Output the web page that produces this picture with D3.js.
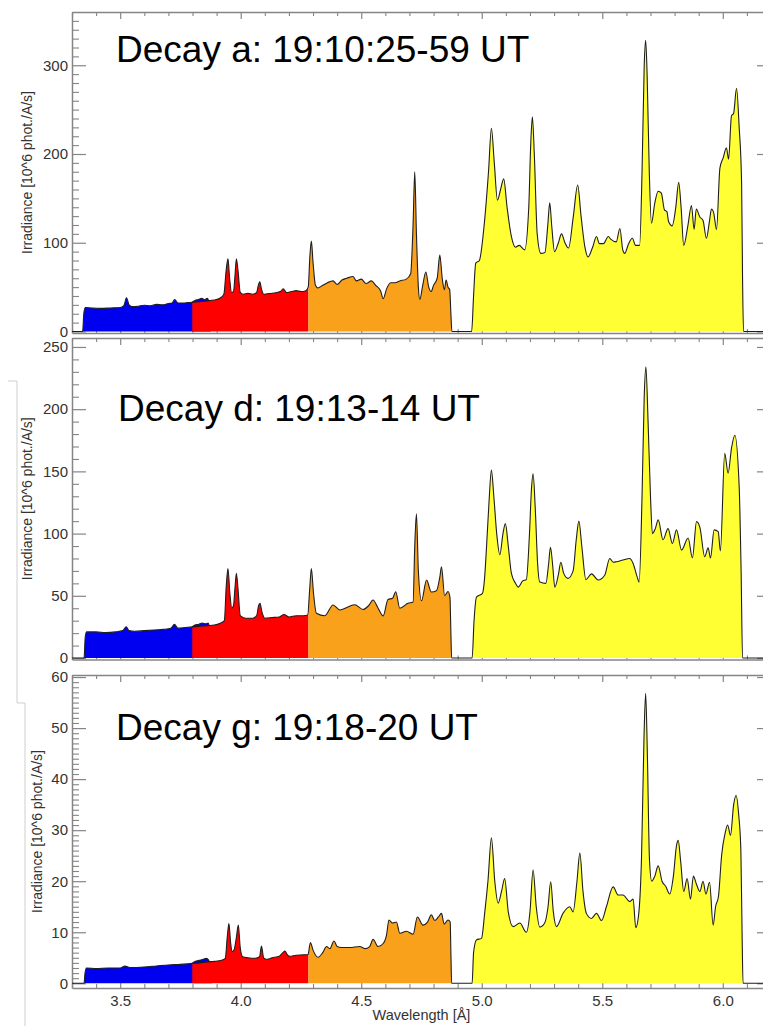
<!DOCTYPE html>
<html>
<head>
<meta charset="utf-8">
<script src="https://cdn.jsdelivr.net/npm/d3@7"></script>
<style>
body{margin:0;background:#fff;}
svg{display:block;}
</style>
</head>
<body>
<div id="chart"></div>
<script>
//x axis (wavelength, Angstrom)
const xDomain = [3.3, 6.2];
const xMajorTicks = [3.5, 4.0, 4.5, 5.0, 5.5, 6.0];

//spectral channels
const bandEdges = [3.30, 3.799, 4.281, 4.92, 6.20];
const bandColors = ["#0000f0", "#ff0000", "#f9a11b", "#ffff33"];

const titles = ["Decay a: 19:10:25-59 UT", "Decay d: 19:13-14 UT", "Decay g: 19:18-20 UT"];
const yLabel = "Irradiance [10^6 phot./A/s]";
const xLabel = "Wavelength [Å]";

//y ranges and tick steps per panel
const yDomains = [[-1.7, 360], [-1.2, 257.2], [-0.92, 60.4]];
const yMajorSteps = [100, 50, 10];
const yMinorSteps = [10, 10, 1];

//spectra: [wavelength, irradiance]
const spectrumA = [
	[3.300,0],[3.344,0],[3.349,20],[3.355,27],[3.380,26.5],[3.420,26],[3.460,26.5],[3.500,27],[3.515,29],[3.526,38],
	[3.537,30],[3.550,28],[3.575,28.5],[3.600,29.5],[3.625,29],[3.650,30.5],[3.675,30],[3.700,31.5],[3.715,32],[3.726,36],
	[3.740,32],[3.760,32],[3.780,32.5],[3.800,33],
	[3.830,33.5],[3.860,34.5],[3.890,35.5],[3.913,37.5],[3.930,42],[3.940,70],[3.947,82],[3.954,60],[3.962,44],[3.970,45],
	[3.976,62],[3.982,82],[3.989,68],[3.998,44],[4.010,42],[4.030,43],[4.050,42],[4.066,44],[4.073,52],[4.079,56],
	[4.086,48],[4.095,42],[4.110,42.5],[4.130,43],[4.150,44],[4.165,45],[4.176,48],[4.190,44],[4.210,45],[4.230,46],
	[4.250,45],[4.270,46],
	[4.280,50],[4.287,85],[4.293,102],[4.300,78],[4.310,52],[4.320,49],[4.340,52],[4.360,55],[4.383,57],[4.400,53],
	[4.420,58],[4.440,60],[4.466,62],[4.480,57],[4.500,59],[4.520,54],[4.542,57],[4.560,52],[4.580,46],[4.591,37],
	[4.605,48],[4.622,55],[4.640,55],[4.660,57],[4.687,59],[4.705,65],[4.715,120],[4.722,180],[4.729,110],[4.737,50],
	[4.743,36],[4.755,52],[4.768,67],[4.780,50],[4.790,45],[4.800,52],[4.815,60],[4.826,86],[4.836,60],[4.845,47],
	[4.852,58],[4.860,50],[4.867,47],[4.872,20],[4.876,0],[4.958,0],
	[4.966,40],[4.975,77],[4.990,80],[5.010,120],[5.028,180],[5.040,229],[5.052,190],[5.065,148],[5.078,160],[5.091,172],
	[5.105,140],[5.123,107],[5.140,95],[5.155,97],[5.178,92],[5.195,140],[5.203,210],[5.210,242],[5.218,200],[5.230,110],
	[5.245,88],[5.262,89],[5.274,120],[5.282,145],[5.290,120],[5.302,90],[5.318,100],[5.331,110],[5.345,100],[5.360,94],
	[5.380,130],[5.398,165],[5.412,130],[5.428,95],[5.441,84],[5.460,95],[5.476,107],[5.488,99],[5.505,99],[5.525,107],
	[5.535,104],[5.558,101],[5.573,116],[5.585,92],[5.593,88],[5.608,98],[5.625,105],[5.638,97],[5.655,97],[5.665,180],
	[5.674,300],[5.680,328],[5.686,290],[5.695,180],[5.704,122],[5.718,145],[5.732,158],[5.745,156],[5.758,137],[5.768,135],
	[5.775,124],[5.790,119],[5.805,140],[5.817,168],[5.827,140],[5.838,97],[5.855,119],[5.870,142],[5.881,115],[5.890,138],
	[5.905,129],[5.918,125],[5.932,105],[5.945,125],[5.953,138],[5.962,134],[5.974,115],[5.988,184],[6.002,196],[6.015,207],
	[6.024,194],[6.036,243],[6.045,246],[6.057,274],[6.068,230],[6.078,168],[6.082,60],[6.086,0],[6.200,0]
];
const spectrumD = [
	[3.300,0],[3.350,0],[3.355,17],[3.361,21],[3.400,21],[3.440,20.5],[3.480,21],[3.510,22],[3.525,25],[3.537,22],
	[3.560,21.5],[3.600,22],[3.640,22.5],[3.680,23],[3.710,24],[3.725,27],[3.740,24],[3.770,24.5],[3.800,25],
	[3.830,25.5],[3.860,26],[3.890,26.5],[3.915,28],[3.932,30],[3.940,58],[3.947,72],[3.955,52],[3.963,40],[3.970,42],
	[3.976,56],[3.982,68],[3.989,55],[3.998,34],[4.020,32],[4.050,32],[4.066,34],[4.074,42],[4.080,44],[4.088,37],
	[4.100,32],[4.130,32.5],[4.160,33],[4.180,35],[4.200,33],[4.230,34],[4.260,34],[4.278,34.6],
	[4.286,55],[4.293,72],[4.302,52],[4.314,36],[4.349,34],[4.383,42.6],[4.411,38.6],[4.445,41],[4.473,42.8],[4.508,39],
	[4.530,42],[4.549,46.6],[4.570,40],[4.591,33.8],[4.611,47],[4.630,48],[4.643,53.3],[4.660,40],[4.694,44],[4.715,45],
	[4.722,90],[4.729,116],[4.737,70],[4.750,46],[4.771,62.7],[4.791,53],[4.812,54],[4.826,65],[4.833,73.4],[4.846,50],
	[4.860,53.5],[4.868,49],[4.872,20],[4.875,0],[4.960,0],
	[4.968,30],[4.978,49],[5.003,52],[5.012,65],[5.020,90],[5.030,125],[5.040,151],[5.050,130],[5.062,100],[5.075,83],
	[5.088,100],[5.098,108],[5.110,90],[5.123,68],[5.140,60],[5.151,57],[5.170,62],[5.185,63],[5.198,100],[5.206,135],
	[5.213,148],[5.222,120],[5.232,75],[5.241,61],[5.266,60],[5.277,75],[5.285,89],[5.294,75],[5.303,57],[5.318,67],
	[5.328,77],[5.340,68],[5.358,64],[5.379,70],[5.392,95],[5.403,110],[5.415,90],[5.432,63],[5.455,67.6],[5.483,62.7],
	[5.510,66.5],[5.531,80],[5.545,77],[5.559,77.4],[5.586,78.8],[5.614,80],[5.628,76],[5.645,65],[5.653,61],[5.665,130],
	[5.674,210],[5.681,234],[5.690,190],[5.700,130],[5.708,100],[5.720,104],[5.732,111],[5.752,95],[5.773,104],[5.791,92],
	[5.808,103],[5.829,86.7],[5.856,96.5],[5.874,80.5],[5.891,109.6],[5.905,105],[5.925,81.4],[5.939,88.5],[5.949,80.4],[5.964,103],
	[5.981,101.6],[5.990,86],[6.008,164.5],[6.022,148.5],[6.036,168.5],[6.050,179],[6.068,137.6],[6.076,70],[6.082,0],[6.200,0]
];
const spectrumG = [
	[3.300,0],[3.350,0],[3.354,2.0],[3.360,3.0],[3.400,2.9],[3.450,3.0],[3.500,3.0],[3.520,3.4],[3.540,3.1],[3.600,3.2],
	[3.650,3.4],[3.700,3.6],[3.750,3.7],[3.800,3.9],
	[3.830,4.0],[3.860,4.2],[3.890,4.3],[3.920,4.5],[3.936,4.9],[3.944,9],[3.951,11.7],[3.958,8],[3.964,6.2],[3.972,6.5],
	[3.982,9],[3.990,11.4],[3.998,7],[4.008,5.2],[4.030,5.0],[4.060,4.9],[4.078,5.2],[4.086,7.3],[4.095,5.0],[4.107,4.7],
	[4.130,5.0],[4.160,5.3],[4.175,6.0],[4.183,6.3],[4.195,5.5],[4.203,5.3],[4.230,5.5],[4.260,5.6],[4.279,5.6],
	[4.289,8.0],[4.300,6.5],[4.321,5.1],[4.340,6.0],[4.356,7.2],[4.370,6.8],[4.387,8.3],[4.400,7.2],[4.418,7.0],[4.452,7.0],
	[4.494,7.2],[4.515,6.8],[4.535,7.2],[4.549,8.6],[4.570,7.2],[4.591,7.8],[4.605,9.5],[4.615,12.4],[4.630,11.8],[4.646,12.0],
	[4.660,9.8],[4.688,10.2],[4.715,9.6],[4.733,13.0],[4.756,11.4],[4.775,12],[4.791,13.4],[4.805,12.3],[4.820,13],[4.833,13.7],
	[4.844,11.6],[4.860,12.4],[4.869,12],[4.872,6],[4.875,0],[4.960,0],
	[4.966,6],[4.978,8.5],[4.999,8.8],[5.012,13.7],[5.026,20.2],[5.040,28.5],[5.054,20],[5.068,15.7],[5.082,18],[5.095,20.5],
	[5.110,14],[5.130,11.1],[5.158,11.8],[5.185,10],[5.200,14],[5.213,22.2],[5.226,15],[5.241,11],[5.261,11.8],[5.275,15],
	[5.286,19.9],[5.297,14],[5.310,11.1],[5.337,13.7],[5.365,15],[5.379,14],[5.395,20],[5.407,25.5],[5.420,18],[5.434,13.7],
	[5.455,12.7],[5.476,13.7],[5.497,12.3],[5.517,15],[5.545,18.9],[5.566,17.3],[5.586,17.3],[5.614,16],[5.628,16.5],[5.639,10.9],
	[5.652,14],[5.663,25],[5.673,48],[5.680,56.8],[5.687,45],[5.696,24],[5.705,20],[5.718,21],[5.732,23],[5.748,20],
	[5.763,19],[5.780,17.5],[5.795,21],[5.808,27],[5.815,28],[5.825,24],[5.838,18],[5.852,20.5],[5.866,16.5],[5.878,21],
	[5.890,19.5],[5.905,18],[5.918,20],[5.930,17.5],[5.945,19.8],[5.960,11.4],[5.970,15],[5.982,17],[5.995,25],[6.010,29.5],
	[6.020,31],[6.032,29],[6.045,35],[6.055,36.8],[6.066,33],[6.075,26],[6.080,10],[6.084,0],[6.200,0]
];

//blue channel running past its edge, showing above the red one
const blueTailA = [[3.798,33],[3.810,35],[3.825,36],[3.838,37.5],[3.850,36],[3.862,37.5],[3.870,32],[3.876,28]];
const blueTailD = [[3.798,25],[3.810,26.5],[3.825,27],[3.840,28],[3.855,27.5],[3.865,28],[3.872,24],[3.878,22]];
const blueTailG = [[3.798,3.9],[3.812,4.3],[3.828,4.5],[3.845,4.7],[3.858,4.9],[3.866,4.6],[3.874,3.9],[3.880,3.6]];

const spectra = [spectrumA, spectrumD, spectrumG];
const blueTails = [blueTailA, blueTailD, blueTailG];


//layout
const width = 763, height = 1026;
const plotLeft = 72, plotRight = 771;
const layout = [
	{top:12, bottom:333, labelX:27, titleX:116, titleY:62},
	{top:338, bottom:659.5, labelX:27, titleX:118, titleY:421},
	{top:675, bottom:988, labelX:37, titleX:116, titleY:740}
];
const font = "'Liberation Sans', Arial, Helvetica, sans-serif";
const axisColor = "#858585";
const textColor = "#333";
const lineColor = "#1e1e1e";

let svg = d3.select("#chart")
	.append("svg")
	.attr("width", width)
	.attr("height", height)
	.attr("font-family", font);

let defs = svg.append("defs");

//frame lines left over from the slide
svg.append("path")
	.attr("d", "M8,381H17V703H25V1026")
	.attr("fill", "none")
	.attr("stroke", "#cfcfcf")
	.attr("stroke-width", 1);

const xScale = d3.scaleLinear()
	.domain(xDomain)
	.range([plotLeft, plotRight]);

const xMinorTicks = d3.range(33, 63).map((d)=>d/10).filter((d)=>!xMajorTicks.some((m)=>Math.abs(m-d)<1e-6));

function styleAxis(g){
	g.select(".domain").attr("stroke", axisColor).attr("stroke-width", 1.5);
	g.selectAll(".tick line").attr("stroke", axisColor).attr("stroke-width", 1.2);
	g.selectAll(".tick text").attr("fill", textColor);
	g.attr("font-family", font).attr("font-size", 15);
}

function minorAxis(g){
	g.select(".domain").remove();
	g.selectAll(".tick line").attr("stroke", axisColor).attr("stroke-width", 1.1);
}

spectra.forEach((spectrum, i)=>{

	let L = layout[i];
	let g = svg.append("g");

	const yScale = d3.scaleLinear()
		.domain(yDomains[i])
		.range([L.bottom, L.top]);

	let majors = d3.range(0, yDomains[i][1], yMajorSteps[i]);
	let minors = d3.range(0, yDomains[i][1], yMinorSteps[i]).filter((v)=>!majors.includes(v));

	//minor ticks
	g.append("g")
		.attr("transform", `translate(${plotLeft},0)`)
		.call(d3.axisLeft(yScale).tickValues(minors).tickSize(-7).tickFormat(""))
		.call(minorAxis);
	g.append("g")
		.attr("transform", `translate(${plotRight},0)`)
		.call(d3.axisRight(yScale).tickValues(minors).tickSize(-7).tickFormat(""))
		.call(minorAxis);
	g.append("g")
		.attr("transform", `translate(0,${L.top})`)
		.call(d3.axisTop(xScale).tickValues(xMinorTicks).tickSize(-4).tickFormat(""))
		.call(minorAxis);
	g.append("g")
		.attr("transform", `translate(0,${L.bottom})`)
		.call(d3.axisBottom(xScale).tickValues(xMinorTicks).tickSize(-4).tickFormat(""))
		.call(minorAxis);

	//major ticks + box
	g.append("g")
		.attr("transform", `translate(${plotLeft},0)`)
		.call(d3.axisLeft(yScale).tickValues(majors).tickSize(-14).tickSizeOuter(0).tickPadding(4))
		.call(styleAxis);
	g.append("g")
		.attr("transform", `translate(${plotRight},0)`)
		.call(d3.axisRight(yScale).tickValues(majors).tickSize(-14).tickSizeOuter(0).tickFormat(""))
		.call(styleAxis);
	g.append("g")
		.attr("transform", `translate(0,${L.top})`)
		.call(d3.axisTop(xScale).tickValues(xMajorTicks).tickSize(-7).tickSizeOuter(0).tickFormat(""))
		.call(styleAxis);

	let bottomAxis = d3.axisBottom(xScale).tickValues(xMajorTicks).tickSize(-7).tickSizeOuter(0).tickPadding(7)
		.tickFormat(i === spectra.length-1 ? d3.format(".1f") : "");
	g.append("g")
		.attr("transform", `translate(0,${L.bottom})`)
		.call(bottomAxis)
		.call(styleAxis);

	//spectrum
	const area = d3.area()
		.x((d)=>xScale(d[0]))
		.y0(yScale(0))
		.y1((d)=>yScale(d[1]))
		.curve(d3.curveMonotoneX);

	const line = d3.line()
		.x((d)=>xScale(d[0]))
		.y((d)=>yScale(d[1]))
		.curve(d3.curveMonotoneX);

	g.append("path")
		.datum(blueTails[i])
		.attr("d", area)
		.attr("fill", bandColors[0]);
	g.append("path")
		.datum(blueTails[i])
		.attr("d", line)
		.attr("fill", "none")
		.attr("stroke", lineColor)
		.attr("stroke-width", 1.1);

	bandColors.forEach((color, j)=>{
		let id = `band-${i}-${j}`;
		defs.append("clipPath")
			.attr("id", id)
			.append("rect")
			.attr("x", xScale(bandEdges[j]))
			.attr("y", L.top)
			.attr("width", xScale(bandEdges[j+1]) - xScale(bandEdges[j]))
			.attr("height", L.bottom - L.top);

		g.append("path")
			.datum(spectrum)
			.attr("d", area)
			.attr("fill", color)
			.attr("clip-path", `url(#${id})`);
	});

	g.append("path")
		.datum(spectrum)
		.attr("d", line)
		.attr("fill", "none")
		.attr("stroke", lineColor)
		.attr("stroke-width", 1.1)
		.attr("stroke-linejoin", "round");

	//texts
	g.append("text")
		.attr("x", L.titleX)
		.attr("y", L.titleY)
		.attr("font-size", 37)
		.attr("fill", "#000")
		.text(titles[i]);

	g.append("text")
		.attr("transform", `translate(${L.labelX},${(L.top + L.bottom)/2}) rotate(-90)`)
		.attr("text-anchor", "middle")
		.attr("dy", "0.35em")
		.attr("font-size", 14)
		.attr("fill", textColor)
		.text(yLabel);
});

svg.append("text")
	.attr("x", (plotLeft + plotRight)/2)
	.attr("y", 1020)
	.attr("text-anchor", "middle")
	.attr("font-size", 14.5)
	.attr("fill", textColor)
	.text(xLabel);
</script>
</body>
</html>
